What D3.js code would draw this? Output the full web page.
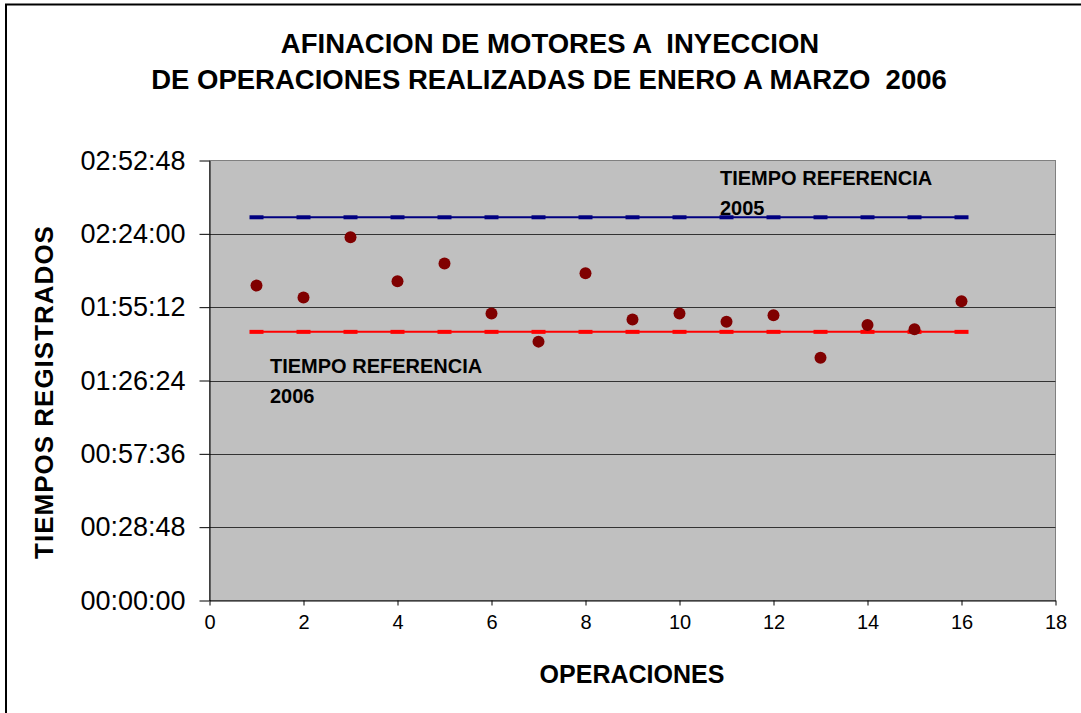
<!DOCTYPE html>
<html>
<head>
<meta charset="utf-8">
<script src="https://cdn.jsdelivr.net/npm/d3@7"></script>
<style>
  body { margin: 0; background: #fff; }
  text { font-family: "Liberation Sans", Arial, sans-serif; }
</style>
</head>
<body>
<div id="chart-area"></div>
<script>
/*
*    Afinacion de motores a inyeccion - tiempos registrados
*/

// operations 1..16 and recorded time for each one
var operaciones = [1, 2, 3, 4, 5, 6, 7, 8, 9, 10, 11, 12, 13, 14, 15, 16];
var tiempos = ["2:03:40", "1:59:00", "2:22:40", "2:05:20", "2:12:20", "1:52:40",
               "1:41:40", "2:08:30", "1:50:20", "1:52:40", "1:49:30", "1:52:00",
               "1:35:20", "1:48:10", "1:46:30", "1:57:30"];

// reference times
var ref2005 = "2:30:30";
var ref2006 = "1:45:30";

var yTicks = ["00:00:00", "00:28:48", "00:57:36", "01:26:24", "01:55:12", "02:24:00", "02:52:48"];
var xTicks = [0, 2, 4, 6, 8, 10, 12, 14, 16, 18];

function toSeconds(t) {
    var p = t.split(":").map(Number);
    return p[0] * 3600 + p[1] * 60 + p[2];
}

var width = 1081, height = 713;
var plot = { left: 209.5, right: 1055.5, top: 160.5, bottom: 600.5 };

var svg = d3.select("#chart-area")
    .append("svg")
        .attr("width", width)
        .attr("height", height);

// outer chart border (cut off at right and bottom)
svg.append("rect")
    .attr("x", 6)
    .attr("y", 4.5)
    .attr("width", 1200)
    .attr("height", 900)
    .attr("fill", "none")
    .attr("stroke", "#000")
    .attr("stroke-width", 2);

var x_scale = d3.scaleLinear()
    .domain([0, 18])
    .range([plot.left, plot.right]);

var y_scale = d3.scaleLinear()
    .domain([0, toSeconds(yTicks[yTicks.length - 1])])
    .range([plot.bottom, plot.top]);

// plot area
svg.append("rect")
    .attr("x", plot.left)
    .attr("y", plot.top)
    .attr("width", plot.right - plot.left)
    .attr("height", plot.bottom - plot.top)
    .attr("fill", "#c0c0c0")
    .attr("stroke", "#808080")
    .attr("stroke-width", 1);

// gridlines
svg.selectAll(".grid")
    .data(yTicks.slice(1, -1))
    .enter()
    .append("line")
        .attr("class", "grid")
        .attr("x1", plot.left)
        .attr("x2", plot.right)
        .attr("y1", function(d){ return Math.round(y_scale(toSeconds(d))) + 0.5; })
        .attr("y2", function(d){ return Math.round(y_scale(toSeconds(d))) + 0.5; })
        .attr("stroke", "#333")
        .attr("stroke-width", 1);

// X-Axis
var xAxisCall = d3.axisBottom(x_scale)
    .tickValues(xTicks)
    .tickSize(5)
    .tickSizeOuter(0)
    .tickPadding(9);
var xAxis = svg.append("g")
    .attr("class", "x-axis")
    .attr("transform", "translate(0, " + plot.bottom + ")")
    .call(xAxisCall);
xAxis.selectAll("text")
    .attr("font-size", "20px")
    .attr("fill", "#000");

// Y-Axis
var yAxisCall = d3.axisLeft(y_scale)
    .tickValues(yTicks.map(toSeconds))
    .tickFormat(function(d, i){ return yTicks[i]; })
    .tickSize(10)
    .tickSizeOuter(0)
    .tickPadding(14);
var yAxis = svg.append("g")
    .attr("class", "y-axis")
    .attr("transform", "translate(" + plot.left + ", 0)")
    .call(yAxisCall);
yAxis.selectAll("text")
    .attr("font-size", "27px")
    .attr("fill", "#000");

svg.selectAll(".domain, .tick line").attr("stroke", "#000");

// reference lines with dash markers
function refLine(value, color, cls) {
    var yv = y_scale(toSeconds(value));
    svg.append("line")
        .attr("x1", x_scale(operaciones[0]))
        .attr("x2", x_scale(operaciones[operaciones.length - 1]))
        .attr("y1", yv)
        .attr("y2", yv)
        .attr("stroke", color)
        .attr("stroke-width", 2);
    svg.selectAll("." + cls)
        .data(operaciones)
        .enter()
        .append("rect")
            .attr("class", cls)
            .attr("x", function(d){ return x_scale(d) - 7; })
            .attr("y", yv - 2)
            .attr("width", 14)
            .attr("height", 4)
            .attr("fill", color);
}
refLine(ref2005, "#000080", "m2005");
refLine(ref2006, "#ff0000", "m2006");

// recorded times
svg.selectAll(".pt")
    .data(tiempos)
    .enter()
    .append("circle")
        .attr("class", "pt")
        .attr("cx", function(d, i){ return x_scale(operaciones[i]); })
        .attr("cy", function(d){ return y_scale(toSeconds(d)); })
        .attr("r", 6)
        .attr("fill", "#800000");

// reference labels
function refLabel(xp, yp, year) {
    var t = svg.append("text")
        .attr("x", xp)
        .attr("y", yp)
        .attr("font-size", "20px")
        .attr("font-weight", "bold");
    t.append("tspan").attr("x", xp).text("TIEMPO REFERENCIA");
    t.append("tspan").attr("x", xp).attr("dy", 30).text(year);
}
refLabel(720, 185, "2005");
refLabel(270, 372.5, "2006");

// Title
svg.append("text")
    .attr("x", 550)
    .attr("y", 53)
    .attr("font-size", "27.5px")
    .attr("font-weight", "bold")
    .attr("text-anchor", "middle")
    .attr("xml:space", "preserve")
    .text("AFINACION DE MOTORES A  INYECCION");
svg.append("text")
    .attr("x", 549)
    .attr("y", 89)
    .attr("font-size", "27.5px")
    .attr("font-weight", "bold")
    .attr("text-anchor", "middle")
    .attr("xml:space", "preserve")
    .text("DE OPERACIONES REALIZADAS DE ENERO A MARZO  2006");

// X Label
svg.append("text")
    .attr("x", 632)
    .attr("y", 683)
    .attr("font-size", "25px")
    .attr("font-weight", "bold")
    .attr("text-anchor", "middle")
    .text("OPERACIONES");

// Y Label
svg.append("text")
    .attr("x", -392)
    .attr("y", 53)
    .attr("font-size", "26px")
    .attr("font-weight", "bold")
    .attr("text-anchor", "middle")
    .attr("letter-spacing", "1px")
    .attr("transform", "rotate(-90)")
    .text("TIEMPOS REGISTRADOS");
</script>
</body>
</html>
